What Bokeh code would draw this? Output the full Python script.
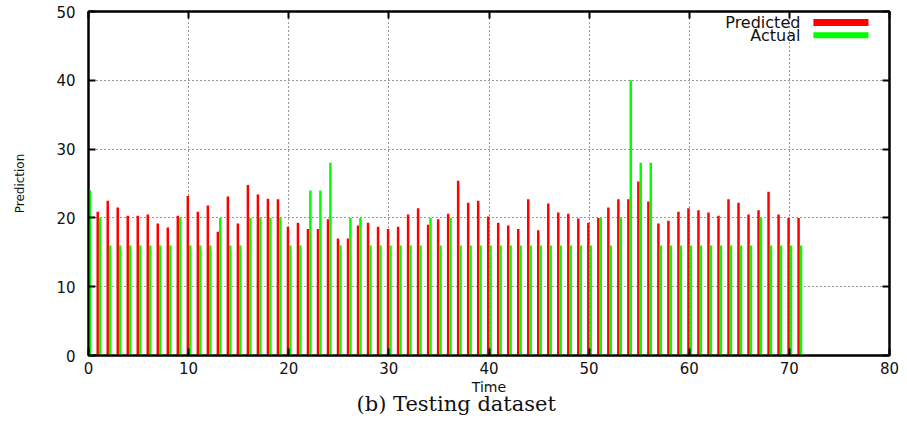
from bokeh.plotting import figure
from bokeh.models import ColumnDataSource, Range1d, LinearAxis, FixedTicker, Label, BoxAnnotation, Title
from bokeh.transform import dodge
from bokeh.embed import file_html
from bokeh.resources import INLINE

# ---- data ----
time_actual = list(range(0, 72))
actual = [24, 20, 16, 16, 16, 16, 16, 16, 16, 20,
          16, 16, 16, 20, 16, 16, 20, 20, 20, 20,
          16, 16, 24, 24, 28, 16, 20, 20, 16, 16,
          16, 16, 16, 16, 20, 16, 20, 16, 16, 16,
          16, 16, 16, 16, 16, 16, 16, 16, 16, 16,
          16, 20, 16, 20, 40, 28, 28, 16, 16, 16,
          16, 16, 16, 16, 16, 16, 16, 20, 16, 16,
          16, 16]
time_pred = list(range(1, 72))
predicted = [20.9, 22.5, 21.5, 20.3, 20.3, 20.5, 19.2, 18.6, 20.3, 23.2,
             20.9, 21.8, 18.0, 23.1, 19.2, 24.8, 23.4, 22.8, 22.7, 18.7,
             19.3, 18.4, 18.4, 19.8, 17.0, 17.0, 18.9, 19.3, 18.7, 18.4,
             18.7, 20.5, 21.4, 19.0, 19.8, 20.6, 25.4, 22.2, 22.5, 20.2,
             19.3, 18.9, 18.4, 22.7, 18.2, 22.1, 20.8, 20.6, 19.9, 19.3,
             20.0, 21.5, 22.7, 22.7, 25.3, 22.4, 19.2, 19.6, 20.9, 21.4,
             21.1, 20.8, 20.3, 22.7, 22.2, 20.5, 21.1, 23.8, 20.5, 20.0, 20.0]
x_ticks = [0, 10, 20, 30, 40, 50, 60, 70, 80]
y_ticks = [0, 10, 20, 30, 40, 50]

RED = "#ff0000"
GREEN = "#00ff00"
FONT = "DejaVu Sans"

p = figure(width=907, height=423, x_range=Range1d(0, 80), y_range=Range1d(0, 50),
           output_backend="svg", toolbar_location=None,
           min_border_left=88, min_border_right=18, min_border_top=11, min_border_bottom=68)
p.background_fill_color = "white"
p.border_fill_color = "white"
p.outline_line_color = "black"
p.outline_line_width = 2

src_a = ColumnDataSource(dict(t=time_actual, v=actual))
src_p = ColumnDataSource(dict(t=time_pred, v=predicted))
p.vbar(x=dodge("t", -0.08, range=p.x_range), top="v", bottom=0, width=0.25,
       source=src_p, fill_color=RED, line_color=None)
p.vbar(x=dodge("t", 0.16, range=p.x_range), top="v", bottom=0, width=0.25,
       source=src_a, fill_color=GREEN, line_color=None)

for ax in p.xaxis:
    ax.ticker = FixedTicker(ticks=x_ticks)
    ax.axis_label = "Time"
for ax in p.yaxis:
    ax.ticker = FixedTicker(ticks=y_ticks)
    ax.axis_label = "Prediction"

def style_axis(ax, show_labels=True):
    ax.axis_line_color = "black"
    ax.axis_line_width = 2
    ax.major_tick_in = 7
    ax.major_tick_out = 0
    ax.major_tick_line_width = 2
    ax.major_tick_line_color = "black"
    ax.minor_tick_line_color = None
    ax.major_label_text_font = FONT
    ax.major_label_text_color = "#111111"
    ax.axis_label_text_font = FONT
    ax.axis_label_text_font_style = "normal"
    ax.axis_label_text_color = "#111111"
    if not show_labels:
        ax.major_label_text_font_size = "1px"
        ax.major_label_text_color = None
        ax.major_label_standoff = 0

xa = p.xaxis[0]
style_axis(xa)
xa.major_label_text_font_size = "15px"
xa.major_label_standoff = 6
xa.axis_label_text_font_size = "14px"
xa.axis_label_standoff = 2

ya = p.yaxis[0]
style_axis(ya)
ya.major_label_text_font_size = "15px"
ya.major_label_standoff = 13
ya.axis_label_text_font_size = "12px"
ya.axis_label_standoff = 26

top_ax = LinearAxis(ticker=FixedTicker(ticks=x_ticks))
style_axis(top_ax, show_labels=False)
p.add_layout(top_ax, "above")
right_ax = LinearAxis(ticker=FixedTicker(ticks=y_ticks))
style_axis(right_ax, show_labels=False)
p.add_layout(right_ax, "right")

p.xgrid.ticker = FixedTicker(ticks=x_ticks[1:-1])
p.ygrid.ticker = FixedTicker(ticks=y_ticks[1:-1])
for g in (p.xgrid[0], p.ygrid[0]):
    g.grid_line_color = "#333333"
    g.grid_line_dash = "1 3"
    g.grid_line_width = 1

# legend (gnuplot style: text then sample)
p.add_layout(Label(x=71.1, y=48.4, text="Predicted", text_align="right", text_baseline="middle",
                   text_font=FONT, text_font_size="16px", text_color="#111111"))
p.add_layout(Label(x=71.1, y=46.5, text="Actual", text_align="right", text_baseline="middle",
                   text_font=FONT, text_font_size="16px", text_color="#111111"))
p.add_layout(BoxAnnotation(left=72.4, right=77.9, bottom=47.9, top=48.9,
                           fill_color=RED, fill_alpha=1, line_color=None))
p.add_layout(BoxAnnotation(left=72.4, right=77.9, bottom=46.1, top=47.0,
                           fill_color=GREEN, fill_alpha=1, line_color=None))

# caption below the chart
cap = Title(text="(b) Testing dataset", align="left", offset=268, standoff=-15,
            text_font="DejaVu Serif", text_font_size="21px", text_font_style="normal",
            text_color="#111111")
p.add_layout(cap, "below")

open("out.html", "w").write(file_html(p, INLINE))
